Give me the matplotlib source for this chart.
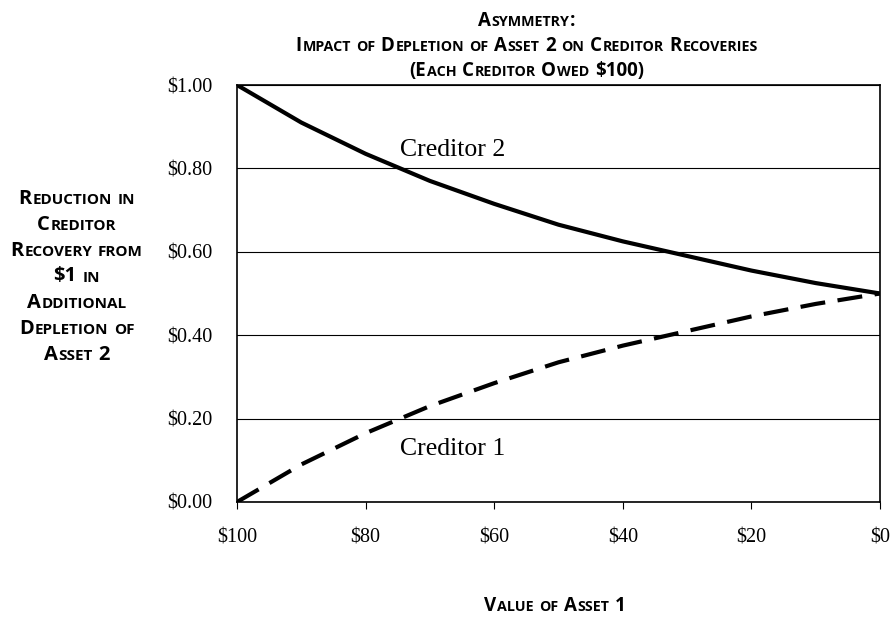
import numpy as np
import matplotlib
matplotlib.use('Agg')
import matplotlib.pyplot as plt
from matplotlib.transforms import IdentityTransform

# values (value of asset 1 vs reduction in recovery)
asset1 = [100, 90, 80, 70, 60, 50, 40, 30, 20, 10, 0]
creditor2 = [1.00, 0.91, 0.835, 0.77, 0.715, 0.665, 0.625, 0.59, 0.555, 0.525, 0.50]
creditor1 = [0.00, 0.09, 0.165, 0.23, 0.285, 0.335, 0.375, 0.41, 0.445, 0.475, 0.50]

xticks = [100, 80, 60, 40, 20, 0]
xtick_labels = ['$100', '$80', '$60', '$40', '$20', '$0']
yticks = [0.0, 0.2, 0.4, 0.6, 0.8, 1.0]
ytick_labels = ['$0.00', '$0.20', '$0.40', '$0.60', '$0.80', '$1.00']

title_lines = ['Asymmetry:',
               'Impact of Depletion of Asset 2 on Creditor Recoveries',
               '(Each Creditor Owed $100)']
ylabel_lines = ['Reduction in', 'Creditor', 'Recovery from', '$1 in',
                'Additional', 'Depletion of', 'Asset 2']
xlabel = 'Value of Asset 1'

W, H = 895, 617
serif = 'Liberation Serif'
sans = 'Open Sans'

fig = plt.figure(figsize=(W / 100, H / 100), dpi=100)
ax = fig.add_axes([237 / W, 1 - 502 / H, (880 - 237) / W, (502 - 85) / H])


def smallcaps(x, y, text, size=10, ha='center'):
    # fake small caps: capitals at full size, lower case as smaller capitals
    # x, y are pixels from the top-left, y is the baseline
    r = fig.canvas.get_renderer()
    small = size * 0.76
    gap = 0.8
    parts = []
    for wi, word in enumerate(text.split(' ')):
        if wi > 0:
            parts.append((None, size * 0.25 * 100 / 72))
        run = ''
        low = None
        for ch in word:
            is_low = ch.islower()
            if low is not None and is_low != low:
                parts.append((run, small if low else size))
                run = ''
            run += ch
            low = is_low
        if run:
            parts.append((run, small if low else size))
    arts = []
    total = 0
    for s, sz in parts:
        if s is None:
            total += sz
            arts.append((None, sz))
            continue
        t = fig.text(0, 0, s.upper(), fontsize=sz, fontfamily=sans, fontweight='bold',
                     transform=IdentityTransform(), va='baseline', ha='left')
        w = t.get_window_extent(r).width + gap
        arts.append((t, w))
        total += w
    if ha == 'center':
        cur = x - total / 2
    else:
        cur = x
    for t, w in arts:
        if t is not None:
            t.set_position((cur, H - y))
        cur += w


# values
ax.plot(asset1, creditor2, color='black', lw=3, solid_capstyle='butt')
ax.plot(asset1, creditor1, color='black', lw=3, dashes=(6, 3), dash_capstyle='butt')

# context
ax.set_xlim(100, 0)
ax.set_ylim(0, 1)
ax.set_xticks(xticks)
ax.set_xticklabels(xtick_labels, fontfamily=serif, fontsize=14.5)
ax.set_yticks(yticks)
ax.set_yticklabels(ytick_labels, fontfamily=serif, fontsize=14.5)
ax.tick_params(axis='x', direction='out', length=5, width=0.8, pad=14)
ax.tick_params(axis='y', length=0, pad=18)
ax.yaxis.grid(True, color='black', lw=0.8)
ax.set_axisbelow(True)
for sp in ax.spines.values():
    sp.set_linewidth(1.2)

ax.text(66.5, 0.843, 'Creditor 2', fontfamily=serif, fontsize=18.5, ha='center', va='center')
ax.text(66.5, 0.127, 'Creditor 1', fontfamily=serif, fontsize=18.5, ha='center', va='center')

for i, line in enumerate(title_lines):
    smallcaps(527, 25.5 + i * 25.3, line, size=13.5)
for i, line in enumerate(ylabel_lines):
    smallcaps(77, 203.5 + i * 26, line, size=14.5)
smallcaps(555, 611, xlabel, size=13.5)

fig.savefig('out.png', dpi=100)
